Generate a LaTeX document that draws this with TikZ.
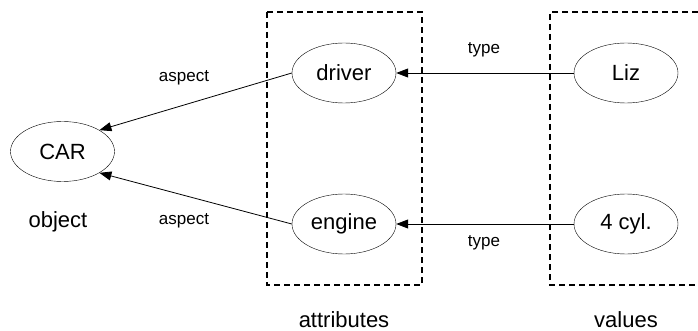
\documentclass[tikz,border=0pt]{standalone}
\usepackage{fontspec}
\setmainfont{Liberation Sans}
\usetikzlibrary{arrows.meta,shapes.geometric}
\tikzset{
	concept/.style={draw,ellipse,minimum width=104pt,minimum height=60pt,inner sep=0pt,font=\fontsize{22}{26}\selectfont},
	caption/.style={font=\fontsize{22}{26}\selectfont},
	rel/.style={font=\fontsize{17}{20}\selectfont},
	link/.style={-{Triangle[length=12pt,width=9pt]},line width=0.8pt},
	group/.style={dashed,line width=1.4pt,dash pattern=on 6pt off 4pt}
}
\begin{document}
\begin{tikzpicture}[x=1pt,y=-1pt]
	\useasboundingbox (0,0) rectangle (698,331);
	\node[concept] (car) at (62.5,151.5) {CAR};
	\node[concept] (driver) at (344,73) {driver};
	\node[concept] (engine) at (344,224) {engine};
	\node[concept] (liz) at (626,73) {Liz};
	\node[concept] (cyl) at (626,224) {4 cyl.};
	\node[caption] (object) at (58,222) {object};
	\node[caption] (attributes) at (344,320) {attributes};
	\node[caption] (values) at (626,320) {values};
	\draw[group] (267,12) rectangle (422,285);
	\draw[group] (698,12) -- (550,12) -- (550,285) -- (698,285);
	\draw[link] (driver.west) -- (car.north east);
	\draw[link] (engine.west) -- (car.south east);
	\draw[link] (liz.west) -- (driver.east);
	\draw[link] (cyl.west) -- (engine.east);
	\node[rel] (aspecta) at (184,78) {aspect};
	\node[rel] (aspectb) at (184,221) {aspect};
	\node[rel] (typea) at (484,50) {type};
	\node[rel] (typeb) at (484,243) {type};
\end{tikzpicture}
\end{document}
